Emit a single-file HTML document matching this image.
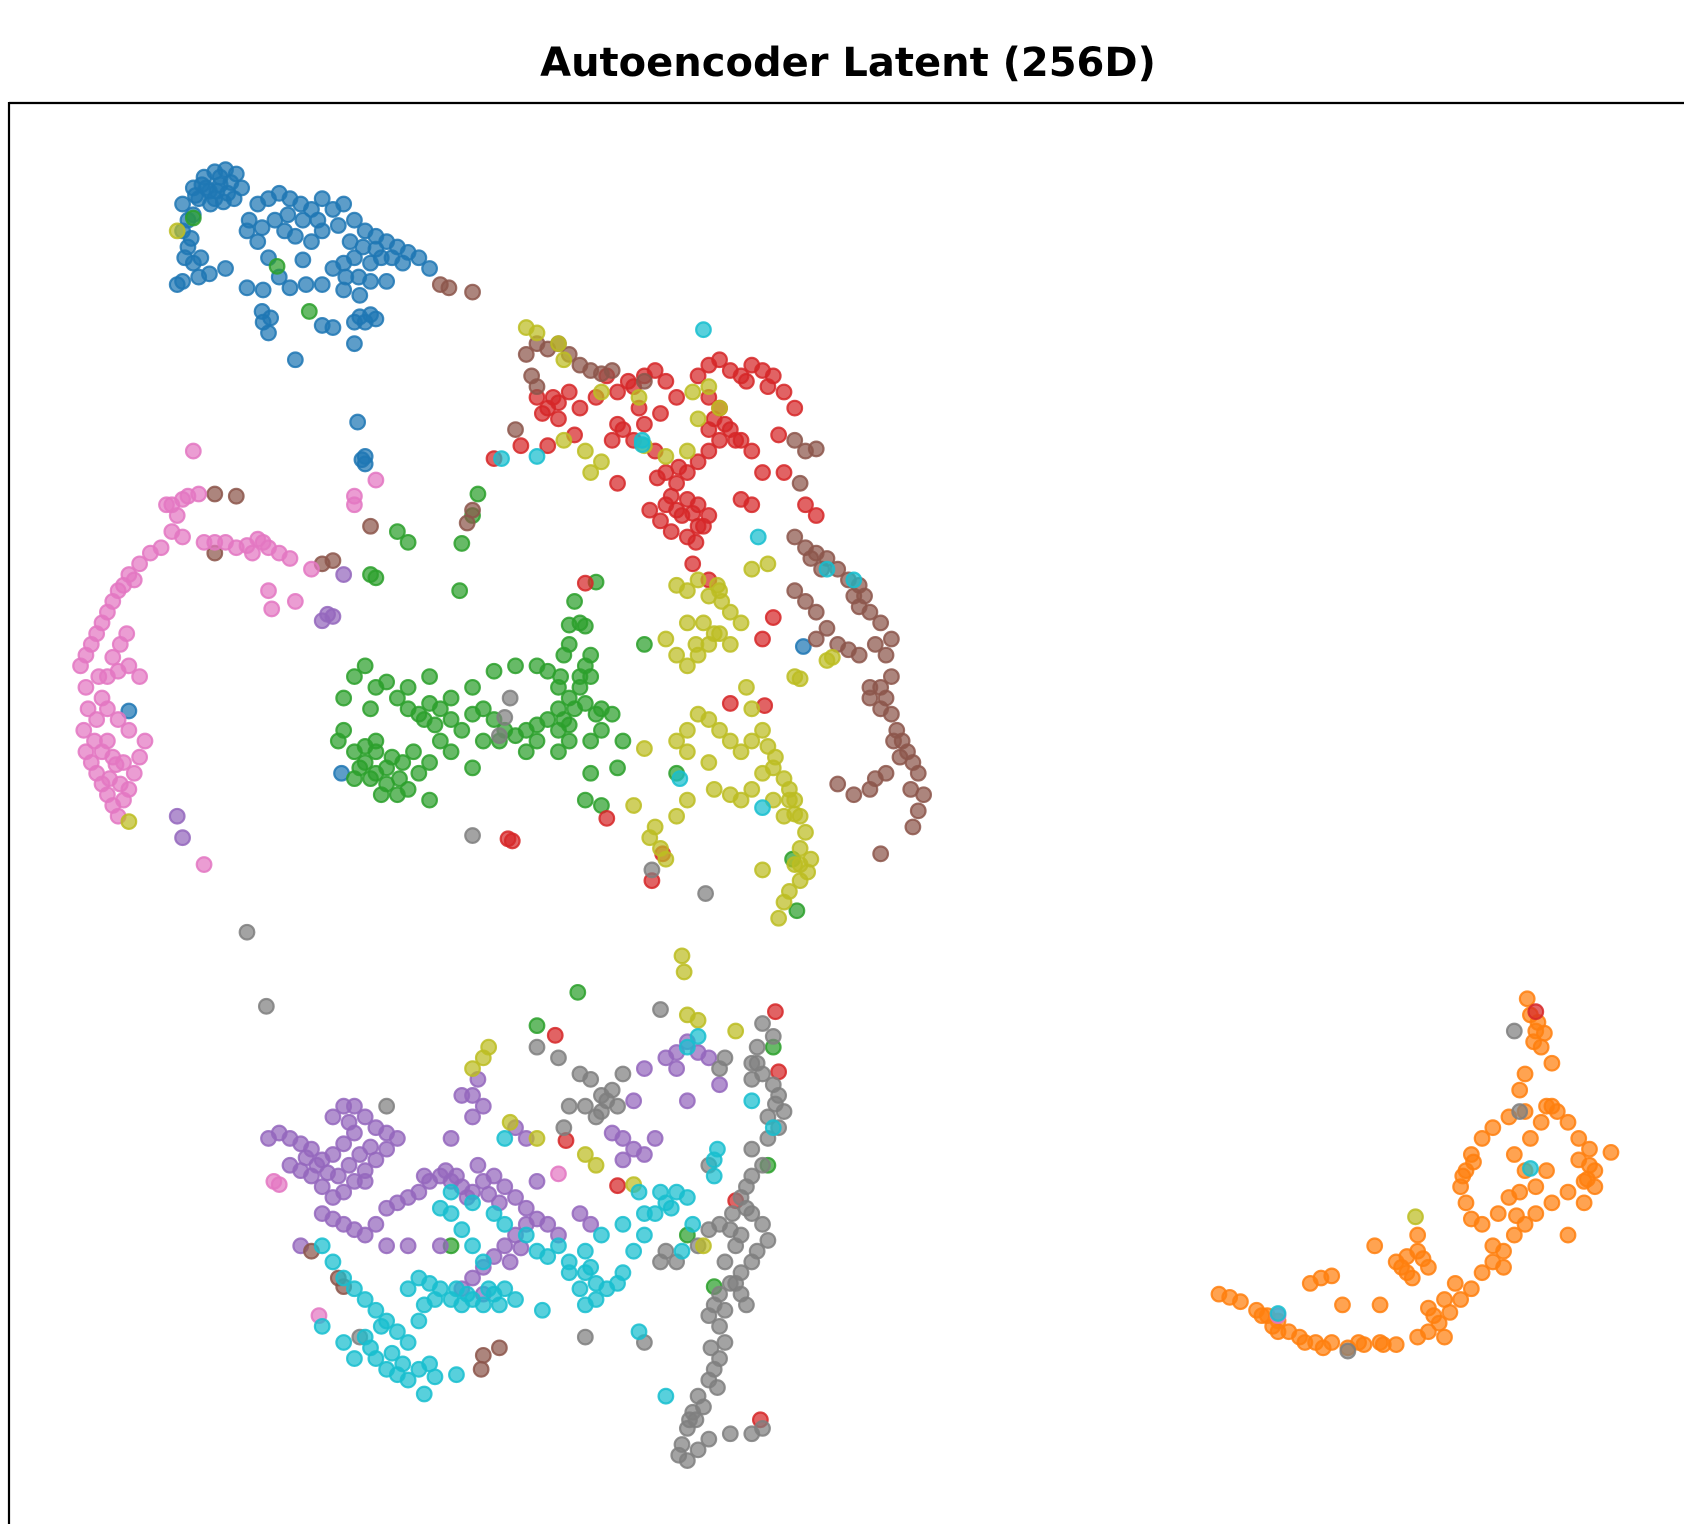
<!DOCTYPE html>
<html><head><meta charset="utf-8"><style>
html,body{margin:0;padding:0;background:#fff;width:1684px;height:1524px;overflow:hidden}
svg{display:block}
</style></head><body>
<svg id="chart" width="1684" height="1524" viewBox="0 0 1684 1524" xmlns="http://www.w3.org/2000/svg">
<rect width="1684" height="1524" fill="#fff"/>
<text x="848" y="76" text-anchor="middle" font-family="'DejaVu Sans','Liberation Sans',sans-serif" font-weight="bold" font-size="40" fill="#000">Autoencoder Latent (256D)</text>
<g id="points"></g>
<line x1="9" y1="103" x2="1684" y2="103" stroke="#000" stroke-width="2.2"/>
<line x1="9" y1="102" x2="9" y2="1524" stroke="#000" stroke-width="2.2"/>
</svg>
<script>
const blue=[170,190,180,175,190,165,200,160,210,158,220,162,185,185,195,178,205,172,215,170,225,175,240,190,250,185,260,180,270,185,280,190,290,195,300,185,310,195,320,190,330,205,340,215,350,220,360,225,370,230,380,235,390,240,400,250,170,215,175,230,180,245,170,262,185,258,195,255,210,250,230,215,240,225,250,240,265,215,275,220,290,225,300,215,320,245,330,240,345,245,355,240,230,268,245,270,270,268,285,265,300,265,320,270,345,262,360,262,335,295,345,293,330,300,300,303,310,305,330,320,245,300,250,310,275,335,340,425,340,432,333,393,165,265,180,200,200,185,188,172,205,165,120,662,318,720,748,602,182,182,192,175,202,178,212,180,196,190,208,188,218,185,175,205,178,222,172,240,187,240,232,205,244,212,256,205,268,200,282,205,296,205,315,210,326,225,338,230,350,232,365,240,375,245,322,258,334,258,310,250,260,258,282,242,335,275,340,300,350,297,244,290,252,296,337,428];
const orange=[1135,1205,1145,1208,1155,1212,1170,1220,1180,1225,1190,1230,1200,1240,1210,1245,1225,1250,1240,1250,1255,1255,1270,1252,1285,1250,1300,1252,1320,1245,1330,1240,1340,1232,1350,1222,1360,1210,1370,1200,1380,1185,1390,1175,1400,1165,1410,1150,1420,1140,1430,1130,1445,1120,1460,1110,1475,1100,1485,1090,1480,1070,1470,1060,1460,1045,1450,1035,1440,1030,1420,1035,1405,1040,1390,1050,1380,1060,1370,1075,1365,1090,1360,1105,1365,1120,1370,1135,1310,1170,1320,1165,1330,1180,1310,1185,1280,1160,1220,1195,1230,1190,1240,1188,1250,1215,1285,1215,1345,1210,1355,1195,1395,1130,1405,1115,1415,1110,1430,1105,1440,1090,1420,1090,1410,1075,1425,1060,1435,1045,1445,1030,1445,990,1435,975,1430,960,1425,945,1422,930,1420,1000,1415,1015,1500,1073,1460,1150,1380,1140,1400,1180,1330,1218,1300,1175,1320,1150,1475,1120,1485,1105,1470,1080,1190,1240,1265,1250,1305,1180,1315,1190,1325,1172,1335,1225,1345,1245,1480,1085,1478,1098,1372,1082,1362,1095,1432,952,1438,962,1428,970,1185,1235,1175,1225,1215,1250,1232,1255,1288,1252,1390,1160,1412,1132];
const green=[320,650,330,630,340,620,350,640,360,635,370,650,380,660,390,665,400,655,410,660,420,670,430,680,440,665,450,660,460,670,470,680,480,685,490,680,500,675,510,670,520,660,530,650,540,640,550,630,560,660,570,665,530,600,540,580,535,560,550,610,520,640,510,625,500,620,480,620,460,625,440,640,420,650,400,630,380,640,345,660,320,680,315,690,330,700,340,710,350,720,360,730,370,740,380,735,390,720,400,710,410,690,420,700,440,715,450,690,465,690,490,700,500,690,520,700,530,690,550,690,560,680,580,690,575,715,550,720,545,745,560,750,400,745,180,203,258,248,288,290,345,535,350,538,370,495,380,505,430,506,428,550,445,460,440,480,538,924,500,955,555,542,600,600,630,720,715,1085,720,975,738,800,742,848,665,1198,640,1150,420,1160,350,700,365,705,330,725,355,740,335,715,345,725,360,715,372,725,375,710,350,690,340,695,385,700,395,670,405,675,525,670,535,660,545,655,555,665,520,680,530,675,540,630,545,620,525,610,530,582,545,583,522,630];
const red=[500,370,510,380,520,375,530,365,540,380,555,370,565,350,575,365,590,360,600,350,610,345,620,355,630,370,615,385,600,395,580,400,570,410,590,410,610,420,620,440,630,450,640,465,650,470,660,480,650,490,640,500,625,495,615,485,605,475,620,470,640,440,650,430,660,420,670,410,680,400,690,410,700,420,710,440,700,470,690,465,660,400,670,380,660,370,650,350,660,340,670,335,680,345,690,350,700,340,710,345,720,350,730,365,740,380,725,405,750,470,760,480,730,440,645,525,660,540,545,543,575,450,460,427,485,415,535,405,510,415,520,390,575,395,720,575,710,595,712,657,680,655,473,781,477,783,565,762,617,795,607,820,708,1322,725,998,722,942,517,964,527,1062,575,1104,685,1118,1430,942,630,475,635,480,645,478,655,490,648,505,625,462,612,445,632,435,665,390,675,395,685,410,695,355,715,360,505,385,515,370,585,355,595,380];
const brown=[490,330,500,320,510,325,520,320,530,330,540,340,550,345,560,348,495,350,500,360,570,345,600,355,480,400,740,410,750,420,760,418,745,450,740,500,750,510,760,515,770,520,780,530,790,540,800,545,805,555,810,570,820,580,830,595,825,610,830,630,820,640,820,660,830,665,835,680,840,690,845,700,850,710,855,720,860,740,855,755,850,770,740,550,750,560,760,570,770,585,760,595,780,600,790,605,800,610,810,640,810,650,825,720,815,725,810,735,795,740,820,795,780,730,200,460,220,462,200,515,300,525,310,522,345,490,435,487,440,475,410,265,418,268,440,272,290,1165,315,1190,320,1198,450,1262,448,1275,465,1255,755,520,765,530,795,555,800,565,815,600,825,650,832,690,838,705,848,735];
const pink=[75,620,80,610,85,600,90,590,95,580,100,570,105,560,110,550,115,545,120,535,130,525,140,515,150,510,160,495,165,480,175,462,185,460,155,470,170,500,190,505,200,505,210,505,220,510,230,508,240,502,250,510,260,515,270,520,290,530,80,640,82,660,78,680,80,700,85,710,90,720,95,730,100,740,105,750,110,760,115,745,120,735,125,720,130,705,135,690,120,680,110,670,100,660,95,650,100,630,110,625,120,620,130,630,100,690,105,705,115,710,180,420,350,447,330,470,330,462,250,550,275,560,253,567,190,805,297,1225,520,1093,1190,1225,255,1100,260,1103,90,670,88,690,95,700,108,712,102,725,112,730,118,590,112,600,105,612,92,630,125,540,160,470,170,465,235,515,245,505];
const gray=[440,778,607,810,657,832,230,868,248,937,470,668,475,650,465,685,615,940,710,953,720,965,705,975,700,990,710,1000,720,1010,725,1020,730,1035,725,1050,715,1060,700,1070,710,1085,700,1095,695,1105,690,1115,700,1130,710,1140,715,1155,705,1165,700,1175,690,1185,680,1195,670,1205,665,1215,660,1225,670,1235,675,1250,670,1265,665,1275,660,1285,650,1300,645,1315,640,1330,635,1345,640,1360,650,1350,660,1340,680,1335,700,1335,710,1330,695,1215,685,1195,685,1160,680,1145,670,1140,660,1145,650,1160,630,1175,615,1175,620,1165,540,1000,550,1005,560,1020,570,1015,580,1000,560,1035,545,1030,530,1030,520,985,500,975,525,1050,670,995,675,985,660,1085,700,1005,705,990,545,1245,600,1250,335,1245,360,1030,1410,960,1415,1035,1255,1258,662,1255,668,1292,655,1310,642,1322,632,1355,648,1322,675,1175,690,1150,682,1130,695,1125,715,1040,722,1028,565,1025,575,1030,555,1040,690,1205,675,1220];
const olive=[490,305,500,310,520,320,525,335,560,365,595,370,645,365,660,360,670,380,650,390,640,420,560,430,545,420,525,410,550,440,600,415,620,425,630,545,640,550,650,540,660,555,670,550,680,570,690,580,680,600,670,590,660,600,650,610,640,620,630,610,640,580,620,595,700,530,715,525,695,640,700,660,710,680,700,690,690,700,680,690,670,680,660,670,650,665,640,680,630,690,640,700,660,710,665,735,680,740,690,745,700,735,710,720,720,715,730,725,735,735,740,745,745,760,750,775,745,790,740,805,745,820,735,830,730,840,725,855,640,745,630,760,610,770,605,780,615,790,620,800,740,630,745,632,770,615,775,612,590,750,600,697,710,810,165,215,120,765,635,890,637,905,640,945,650,950,685,960,655,1160,440,995,450,985,455,975,475,1045,500,1060,545,1075,555,1085,590,1103,1318,1133,720,745,730,760,745,805,755,800,655,580,665,590,672,560,668,545,648,600,715,695,722,705,735,745,740,758,752,812];
const purple=[250,1060,260,1055,270,1060,280,1065,290,1070,300,1080,310,1075,320,1065,330,1055,310,1040,320,1030,330,1030,340,1040,350,1050,360,1055,370,1060,360,1070,350,1080,340,1090,330,1100,320,1110,310,1115,300,1105,290,1095,280,1090,270,1085,300,1130,310,1135,320,1140,330,1145,340,1150,350,1140,360,1125,370,1120,380,1115,390,1110,400,1100,410,1095,420,1100,430,1105,440,1110,450,1100,460,1095,470,1105,480,1115,490,1125,500,1135,490,1140,480,1150,470,1160,460,1170,450,1180,440,1190,430,1200,450,1205,410,1160,380,1160,360,1160,340,1100,420,1060,440,1040,450,1030,445,1005,440,1020,430,1020,480,1050,490,1060,500,1100,510,1140,520,1150,540,1130,550,1140,580,1080,590,1070,600,1075,610,1060,580,1060,570,1055,590,1025,600,995,620,985,630,980,640,970,650,980,660,985,670,1010,640,1025,630,995,165,760,170,780,300,578,305,572,310,574,320,535,280,1160,295,1085,305,1092,315,1095,285,1078,325,1085,335,1075,345,1068,325,1045,415,1090,425,1095,445,1085,455,1112,465,1120,435,1115,395,1095,485,1162,475,1175];
const cyan=[655,307,598,410,598,414,467,427,500,425,706,500,770,530,795,540,633,725,710,752,640,975,650,965,300,1160,310,1175,320,1190,330,1200,340,1210,350,1220,360,1230,340,1245,345,1255,350,1265,360,1275,370,1280,380,1285,390,1275,400,1270,370,1240,380,1250,390,1230,380,1200,390,1190,400,1195,410,1200,420,1210,430,1215,440,1210,450,1215,460,1205,470,1200,480,1210,450,1175,440,1160,430,1145,420,1130,410,1125,420,1110,440,1120,460,1130,470,1140,490,1150,500,1165,510,1170,520,1160,530,1185,540,1200,545,1215,555,1210,565,1200,575,1195,580,1185,590,1165,600,1150,610,1130,620,1120,630,1110,640,1115,645,1140,600,1130,595,1110,580,1140,560,1150,545,1165,550,1180,530,1175,505,1220,595,1240,620,1300,665,1095,665,1080,668,1070,700,1025,720,1050,635,1165,395,1298,405,1282,425,1280,300,1235,320,1250,330,1265,1425,1088,470,1060,1190,1223,355,1235,365,1260,375,1270,395,1215,405,1210,425,1200,435,1205,455,1200,465,1215,545,1185,555,1195,615,1110,625,1125];
const series=[[blue,'#1f77b4','blue'],[orange,'#ff7f0e','orange'],[green,'#2ca02c','green'],[red,'#d62728','red'],[purple,'#9467bd','purple'],[brown,'#8c564b','brown'],[pink,'#e377c2','pink'],[gray,'#7f7f7f','gray'],[olive,'#bcbd22','olive'],[cyan,'#17becf','cyan']];
const S=1684/1568;
function xs(v){return v*S;}
function ys(v){return v*S;}
const g=document.getElementById('points');
const ns='http://www.w3.org/2000/svg';
series.forEach(function(s){
  const arr=s[0];
  const grp=document.createElementNS(ns,'g');
  
  
  for(let i=0;i<arr.length;i+=2){
    const c=document.createElementNS(ns,'circle');
    c.setAttribute('cx',xs(arr[i]));
    c.setAttribute('cy',ys(arr[i+1]));
    c.setAttribute('r',7.3);
    c.setAttribute('fill',s[1]);
    c.setAttribute('fill-opacity',0.72);
    c.setAttribute('stroke',s[1]);
    c.setAttribute('stroke-opacity',0.85);
    c.setAttribute('stroke-width',2.2);
    
    
    grp.appendChild(c);
  }
  g.appendChild(grp);
});
</script>
</body></html>
